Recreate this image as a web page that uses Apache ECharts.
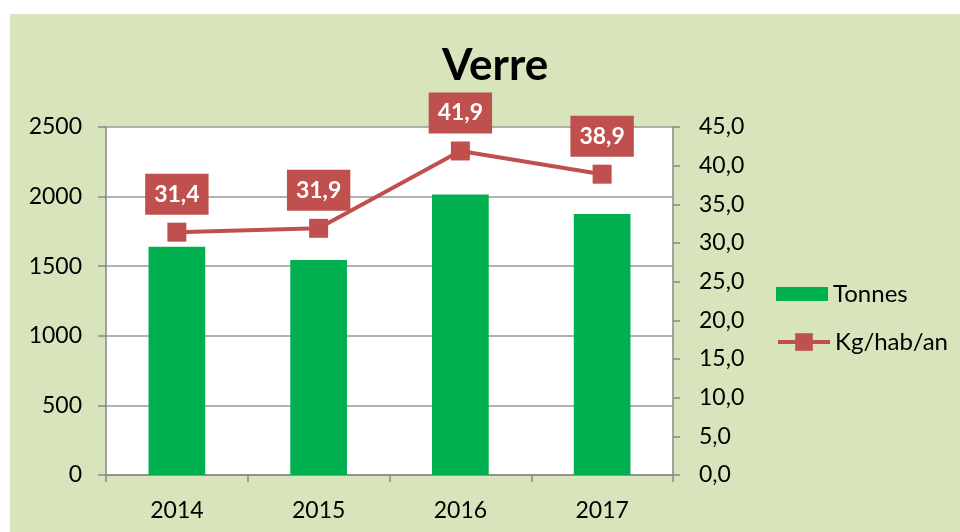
<!DOCTYPE html>
<html>
<head>
<meta charset="utf-8">
<script src="https://cdn.jsdelivr.net/npm/echarts@6/dist/echarts.min.js"></script>
<style>
  html, body { margin: 0; padding: 0; background: #ffffff; }
  #bg { position: absolute; left: 10px; top: 14px; width: 950px; height: 518px; background: #d8e4bc; }
  #chart { position: absolute; left: 0; top: 0; width: 960px; height: 532px; }
</style>
</head>
<body>
<div id="bg"></div>
<div id="chart"></div>
<script>
const categories = ['2014', '2015', '2016', '2017'];
const tonnes = [1640, 1545, 2015, 1875];
const kgHabAn = [31.4, 31.9, 41.9, 38.9];
const leftTicks = [0, 500, 1000, 1500, 2000, 2500];
const rightTicks = [0, 5, 10, 15, 20, 25, 30, 35, 40, 45];

const FONT = 'Lato, "Open Sans", sans-serif';
const fmt = v => Number(v).toFixed(1).replace('.', ',');

const chart = echarts.init(document.getElementById('chart'));
chart.setOption({
  backgroundColor: 'transparent',
  animation: false,
  textStyle: { fontFamily: FONT },
  title: {
    text: 'Verre',
    left: 437,
    top: 39,
    textStyle: { fontFamily: FONT, fontSize: 44, fontWeight: 'bold', color: '#000' }
  },
  legend: [
    {
      orient: 'vertical',
      left: 776,
      top: 282,
      padding: 0,
      itemWidth: 52,
      itemHeight: 14,
      textStyle: { fontFamily: FONT, fontSize: 24, color: '#000' },
      data: [{ name: 'Tonnes', icon: 'rect' }]
    },
    {
      orient: 'vertical',
      left: 776,
      top: 330,
      padding: 0,
      itemWidth: 52,
      itemHeight: 22,
      lineStyle: { width: 4 },
      textStyle: { fontFamily: FONT, fontSize: 24, color: '#000' },
      data: ['Kg/hab/an']
    }
  ],
  grid: {
    left: 106, right: 287, top: 127, bottom: 57,
    show: true, backgroundColor: '#ffffff', borderWidth: 0
  },
  xAxis: {
    type: 'category',
    data: categories,
    boundaryGap: true,
    axisLine: { show: true, lineStyle: { color: '#888888', width: 1.5 } },
    axisTick: { show: true, alignWithLabel: false, length: 7, lineStyle: { color: '#888888', width: 1.5 } },
    axisLabel: { fontFamily: FONT, fontSize: 23, color: '#000', margin: 24 }
  },
  yAxis: [
    {
      type: 'value',
      min: leftTicks[0],
      max: leftTicks[leftTicks.length - 1],
      interval: leftTicks[1] - leftTicks[0],
      axisLine: { show: true, lineStyle: { color: '#888888', width: 1.5 } },
      axisTick: { show: true, length: 8, lineStyle: { color: '#888888', width: 1.5 } },
      splitLine: { show: true, lineStyle: { color: '#999999', width: 1.5 } },
      axisLabel: { fontFamily: FONT, fontSize: 23, color: '#000', margin: 24, formatter: v => String(v) }
    },
    {
      type: 'value',
      position: 'right',
      min: rightTicks[0],
      max: rightTicks[rightTicks.length - 1],
      interval: rightTicks[1] - rightTicks[0],
      axisLine: { show: true, lineStyle: { color: '#888888', width: 1.5 } },
      axisTick: { show: true, length: 7, lineStyle: { color: '#888888', width: 1.5 } },
      splitLine: { show: false },
      axisLabel: { fontFamily: FONT, fontSize: 23, color: '#000', margin: 26, formatter: fmt }
    }
  ],
  series: [
    {
      name: 'Tonnes',
      type: 'bar',
      data: tonnes,
      barWidth: '40%',
      itemStyle: { color: '#00b050' }
    },
    {
      name: 'Kg/hab/an',
      type: 'line',
      yAxisIndex: 1,
      data: kgHabAn,
      symbol: 'rect',
      symbolSize: 19,
      lineStyle: { color: '#c0504d', width: 4 },
      itemStyle: { color: '#c0504d' },
      label: {
        show: true,
        position: 'top',
        distance: 8,
        formatter: p => fmt(p.value),
        fontFamily: FONT,
        fontSize: 23,
        fontWeight: 'bold',
        color: '#ffffff',
        backgroundColor: '#c0504d',
        lineHeight: 23,
        padding: [9, 9, 9, 9]
      },
      z: 5
    }
  ]
});
</script>
</body>
</html>
